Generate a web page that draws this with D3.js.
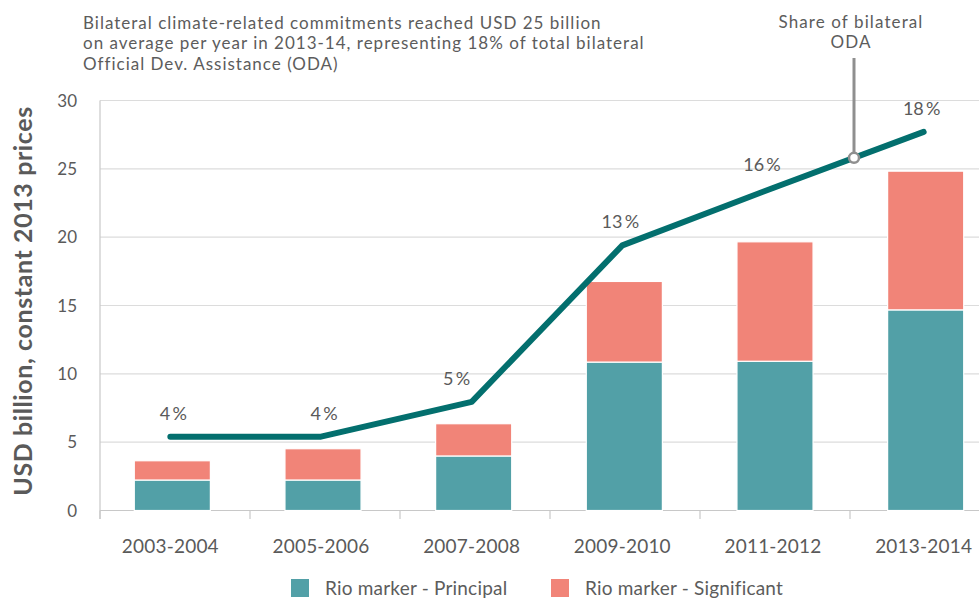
<html>
<head>
  <title>Bilateral climate-related commitments</title>
  <style>
  body {
    margin: 0;
    background: #fff;
    font-family: Lato, sans-serif;
  }
  .grid line {
    stroke: #dcdcdc;
    stroke-width: 1.2;
  }
  .axis-line {
    stroke: #c8c8c8;
    stroke-width: 1.2;
  }
  .tick-label {
    fill: #5a5a5a;
  }
  </style>
</head>
<body>
  <div id='chart'></div>

  <script src="https://d3js.org/d3.v7.min.js"></script>
  <script>
  // data
  var periods = ["2003-2004", "2005-2006", "2007-2008", "2009-2010", "2011-2012", "2013-2014"]
  var principal = [2.23, 2.23, 3.99, 10.86, 10.92, 14.68]
  var significant = [1.41, 2.29, 2.36, 5.9, 8.74, 10.15]
  var odaLine = [5.4, 5.4, 7.95, 19.4, 23.6, 27.7]
  var odaShare = ["4\u2009%", "4\u2009%", "5\u2009%", "13\u2009%", "16\u2009%", "18\u2009%"]
  var yTicks = [0, 5, 10, 15, 20, 25, 30]
  var seriesNames = ["Rio marker - Principal", "Rio marker - Significant"]

  // label nudges (style only)
  var labelDx = [3, 3, -15, -2, -11, -2]

  var width = 979, height = 598
  var colors = {principal: "#52a0a7", significant: "#f18478", line: "#036f6e", text: "#5c5c5c"}

  var svg = d3.select("#chart").append("svg")
    .attr("width", width)
    .attr("height", height)

  var y = d3.scaleLinear().domain([0, 30]).range([510.5, 100.5])

  // axis band (ticks between periods) and bar band (slightly shifted, as in the original)
  var xAxis = d3.scaleBand().domain(periods).range([100, 1000])
  var x = d3.scaleBand().domain(periods).range([97, 1001]).paddingInner(0.495).paddingOuter(0.2475)

  // horizontal grid
  svg.append("g").attr("class", "grid")
    .selectAll("line")
    .data(yTicks.filter(function(d){ return d > 0 }))
    .enter().append("line")
      .attr("x1", 100).attr("x2", width)
      .attr("y1", function(d){ return y(d) })
      .attr("y2", function(d){ return y(d) })

  // y tick labels
  svg.append("g")
    .selectAll("text")
    .data(yTicks)
    .enter().append("text")
      .attr("class", "tick-label")
      .attr("x", 77)
      .attr("y", function(d){ return y(d) + 6 })
      .attr("text-anchor", "end")
      .style("font-size", "17px")
      .text(function(d){ return d })

  // axis lines
  svg.append("line").attr("class", "axis-line")
    .attr("x1", 100).attr("x2", 100).attr("y1", y(30)).attr("y2", 519)
  svg.append("line").attr("class", "axis-line")
    .attr("x1", 100).attr("x2", width).attr("y1", y(0)).attr("y2", y(0))
  svg.append("g")
    .selectAll("line")
    .data(periods)
    .enter().append("line")
      .attr("class", "axis-line")
      .attr("x1", function(d){ return xAxis(d) })
      .attr("x2", function(d){ return xAxis(d) })
      .attr("y1", y(0)).attr("y2", 519)

  // x labels
  svg.append("g")
    .selectAll("text")
    .data(periods)
    .enter().append("text")
      .attr("class", "tick-label")
      .attr("x", function(d){ return x(d) + x.bandwidth() / 2 - 2 })
      .attr("y", 553)
      .attr("text-anchor", "middle")
      .style("font-size", "19px")
      .style("letter-spacing", "0.2px")
      .text(function(d){ return d })

  // stacked bars
  var stackData = periods.map(function(p, i){
    return {period: p, principal: principal[i], significant: significant[i]}
  })
  var stacked = d3.stack().keys(["principal", "significant"])(stackData)

  svg.append("g")
    .selectAll("g")
    .data(stacked)
    .enter().append("g")
      .attr("fill", function(s){ return colors[s.key] })
    .selectAll("rect")
    .data(function(s){ return s })
    .enter().append("rect")
      .attr("x", function(d){ return x(d.data.period) })
      .attr("width", x.bandwidth())
      .attr("y", function(d){ return y(d[1]) })
      .attr("height", function(d){ return y(d[0]) - y(d[1]) })
      .attr("stroke", "#fff")
      .attr("stroke-width", 1.2)

  // ODA share line
  var line = d3.line()
    .x(function(d, i){ return x(periods[i]) + x.bandwidth() / 2 - 2 })
    .y(function(d){ return y(d) })

  svg.append("path")
    .datum(odaLine)
    .attr("d", line)
    .attr("fill", "none")
    .attr("stroke", colors.line)
    .attr("stroke-width", 6)
    .attr("stroke-linecap", "round")
    .attr("stroke-linejoin", "round")

  svg.append("g")
    .selectAll("text")
    .data(odaLine)
    .enter().append("text")
      .attr("class", "tick-label")
      .attr("x", function(d, i){ return x(periods[i]) + x.bandwidth() / 2 - 2 + labelDx[i] })
      .attr("y", function(d){ return y(d) - 17 })
      .attr("text-anchor", "middle")
      .style("font-size", "18px")
      .text(function(d, i){ return odaShare[i] })

  // annotation: leader to a point on the line between the last two periods
  var ax = 854
  var i4 = x(periods[4]) + x.bandwidth() / 2 - 2, i5 = x(periods[5]) + x.bandwidth() / 2 - 2
  var ay = y(odaLine[4] + (odaLine[5] - odaLine[4]) * (ax - i4) / (i5 - i4))
  svg.append("line")
    .attr("x1", ax).attr("x2", ax).attr("y1", 58).attr("y2", ay - 5)
    .attr("stroke", "#8f8f8f").attr("stroke-width", 3)
  svg.append("circle")
    .attr("cx", ax).attr("cy", ay).attr("r", 5)
    .attr("fill", "#fff").attr("stroke", "#8f8f8f").attr("stroke-width", 2.5)
  svg.append("text")
    .attr("x", 851).attr("y", 27.5)
    .attr("text-anchor", "middle")
    .style("font-size", "17px").style("letter-spacing", "1.1px").attr("fill", colors.text)
    .selectAll("tspan")
    .data(["Share of bilateral", "ODA"])
    .enter().append("tspan")
      .attr("x", 851)
      .attr("dy", function(d, i){ return i ? 20.5 : 0 })
      .text(function(d){ return d })

  // title
  svg.append("text")
    .attr("x", 83).attr("y", 28.5)
    .style("font-size", "17px").style("letter-spacing", "1px").attr("fill", colors.text)
    .selectAll("tspan")
    .data(["Bilateral climate-related commitments reached USD 25 billion",
           "on average per year in 2013-14, representing 18% of total bilateral",
           "Official Dev. Assistance (ODA)"])
    .enter().append("tspan")
      .attr("x", 83)
      .attr("dy", function(d, i){ return i ? 20.5 : 0 })
      .text(function(d){ return d })

  // y axis title
  svg.append("text")
    .attr("transform", "translate(32,301) rotate(-90)")
    .attr("text-anchor", "middle")
    .style("font-size", "25px")
    .style("font-weight", "bold")
    .style("letter-spacing", "0.6px")
    .attr("fill", "#5a5a5a")
    .text("USD billion, constant 2013 prices")

  // legend
  var legendX = [291, 551]
  var legend = svg.append("g")
    .selectAll("g")
    .data(seriesNames)
    .enter().append("g")
      .attr("transform", function(d, i){ return "translate(" + legendX[i] + ",579)" })
  legend.append("rect")
    .attr("width", 18).attr("height", 18)
    .attr("fill", function(d, i){ return i ? colors.significant : colors.principal })
  legend.append("text")
    .attr("x", 34).attr("y", 16)
    .style("font-size", "19px").style("letter-spacing", "0.2px").attr("fill", colors.text)
    .text(function(d){ return d })
  </script>
</body>
</html>
